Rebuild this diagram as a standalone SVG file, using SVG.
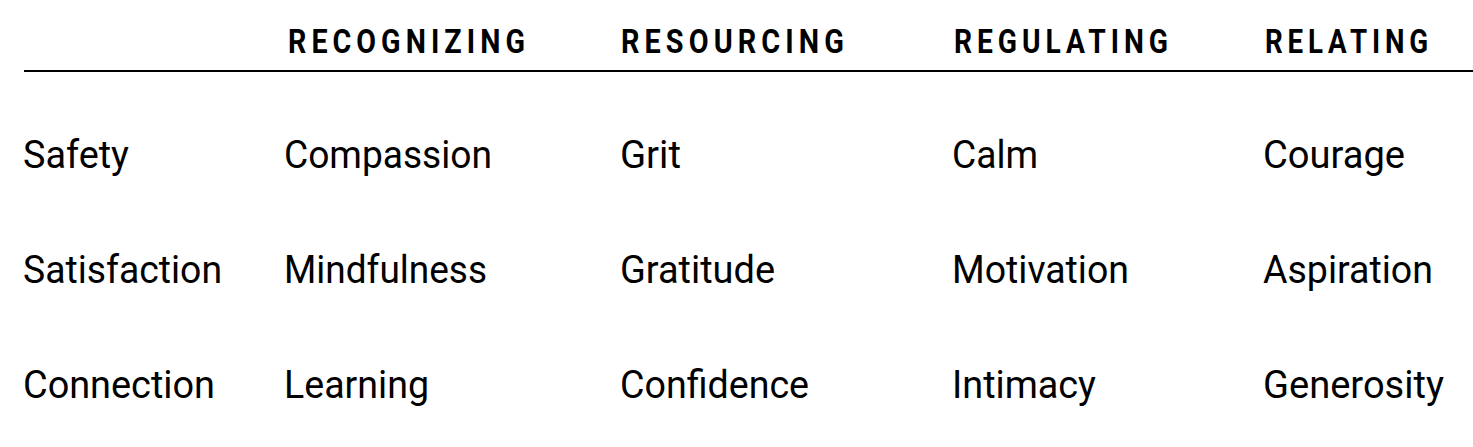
<svg xmlns="http://www.w3.org/2000/svg" width="1473" height="447" viewBox="0 0 1473 447">
<style>
text { font-family: Roboto, "Liberation Sans", "DejaVu Sans", sans-serif; fill: #000; }
.h { font-size: 34px; font-weight: 700; letter-spacing: 6px; }
.c { font-size: 38.5px; font-weight: 400; }
.rule { stroke: #000; stroke-width: 2; }
</style>
<rect width="1473" height="447" fill="#fff"/>
<g id="header">
  <text class="h" x="288" y="53" textLength="242" lengthAdjust="spacingAndGlyphs">RECOGNIZING</text>
  <text class="h" x="621" y="53" textLength="228" lengthAdjust="spacingAndGlyphs">RESOURCING</text>
  <text class="h" x="954" y="53" textLength="219" lengthAdjust="spacingAndGlyphs">REGULATING</text>
  <text class="h" x="1265" y="53" textLength="168" lengthAdjust="spacingAndGlyphs">RELATING</text>
</g>
<g id="divider">
  <line class="rule" x1="24" y1="71" x2="1473" y2="71"/>
</g>
<g id="row-safety">
  <text class="c" x="23" y="168" textLength="106" lengthAdjust="spacingAndGlyphs">Safety</text>
  <text class="c" x="284" y="168" textLength="208" lengthAdjust="spacingAndGlyphs">Compassion</text>
  <text class="c" x="620" y="168" textLength="61" lengthAdjust="spacingAndGlyphs">Grit</text>
  <text class="c" x="952" y="168" textLength="86" lengthAdjust="spacingAndGlyphs">Calm</text>
  <text class="c" x="1263" y="168" textLength="142" lengthAdjust="spacingAndGlyphs">Courage</text>
</g>
<g id="row-satisfaction">
  <text class="c" x="23" y="283" textLength="199" lengthAdjust="spacingAndGlyphs">Satisfaction</text>
  <text class="c" x="284" y="283" textLength="203" lengthAdjust="spacingAndGlyphs">Mindfulness</text>
  <text class="c" x="620" y="283" textLength="155" lengthAdjust="spacingAndGlyphs">Gratitude</text>
  <text class="c" x="952" y="283" textLength="177" lengthAdjust="spacingAndGlyphs">Motivation</text>
  <text class="c" x="1263" y="283" textLength="170" lengthAdjust="spacingAndGlyphs">Aspiration</text>
</g>
<g id="row-connection">
  <text class="c" x="23" y="398" textLength="192" lengthAdjust="spacingAndGlyphs">Connection</text>
  <text class="c" x="284" y="398" textLength="145" lengthAdjust="spacingAndGlyphs">Learning</text>
  <text class="c" x="620" y="398" textLength="189" lengthAdjust="spacingAndGlyphs">Confidence</text>
  <text class="c" x="952" y="398" textLength="144" lengthAdjust="spacingAndGlyphs">Intimacy</text>
  <text class="c" x="1263" y="398" textLength="181" lengthAdjust="spacingAndGlyphs">Generosity</text>
</g>
</svg>
